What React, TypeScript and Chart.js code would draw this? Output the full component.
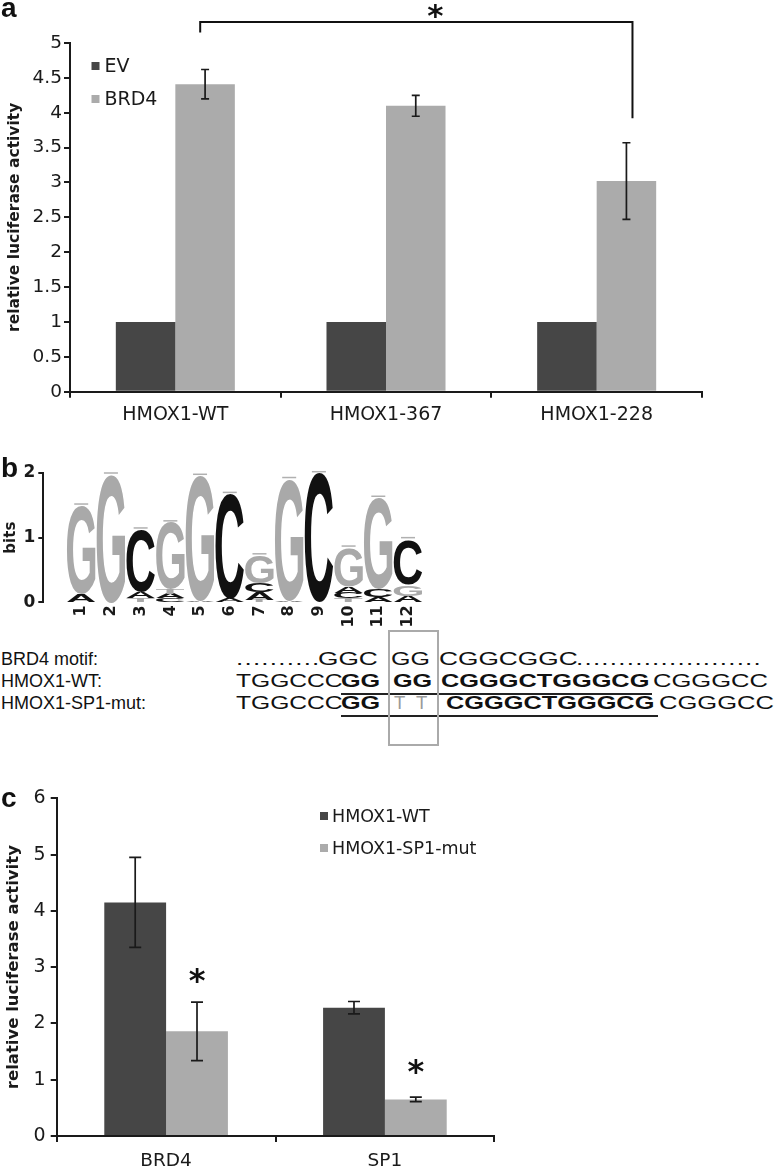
import React, { useEffect, useRef } from 'react';
import { Chart, registerables } from 'chart.js';

Chart.register(...registerables);

// ---------- Panel a data ----------
const aCategories = ['HMOX1-WT', 'HMOX1-367', 'HMOX1-228'];
const aSeriesNames = ['EV', 'BRD4'];
const aEV = [1, 1, 1];
const aEVErr = [0, 0, 0];
const aBRD4 = [4.41, 4.1, 3.02];
const aBRD4Err = [0.21, 0.15, 0.55];
// significance bracket (x in category-index units, y in axis units)
const aBracketX = [0.118, 2.17];
const aBracketY = [5.3, 5.15, 3.92]; // top, left end, right end
const aStarX = [1.234];
const aStarY = [5.45];

// ---------- Panel b data (sequence logo, bits) ----------
const logoPositions = [1, 2, 3, 4, 5, 6, 7, 8, 9, 10, 11, 12];
const logoLabels = ['1', '2', '3', '4', '5', '6', '7', '8', '9', '10', '11', '12'];
const logoLetters = ['A', 'C', 'G', 'T'];
const logoA = [0.12, 0, 0.1, 0.07, 0.02, 0.05, 0.12, 0.02, 0, 0.1, 0.08, 0.1];
const logoC = [0, 0, 0.96, 0.06, 0, 1.62, 0.14, 0, 1.99, 0.09, 0.12, 0.7];
const logoG = [1.37, 1.97, 0, 1.03, 1.93, 0, 0.42, 1.88, 0, 0.59, 1.41, 0.17];
const logoT = [0, 0, 0.06, 0.07, 0, 0, 0.04, 0, 0, 0.06, 0, 0];

// ---------- Panel b text ----------
const seqLabels = ['BRD4 motif:', 'HMOX1-WT:', 'HMOX1-SP1-mut:'];
const seqRow1 = ['..........', 'GGC', 'GG', 'CGGCGGC', '......................'];
const seqRow2 = ['TGGCCC', 'GG', 'GG', 'CGGGCTGGGCG', 'CGGGCC'];
const seqRow3 = ['TGGCCC', 'GG', 'T', 'T', 'CGGGCTGGGCG', 'CGGGCC'];

// ---------- Panel c data ----------
const cCategories = ['BRD4', 'SP1'];
const cSeriesNames = ['HMOX1-WT', 'HMOX1-SP1-mut'];
const cWT = [4.15, 2.28];
const cWTErr = [0.8, 0.11];
const cMut = [1.86, 0.65];
const cMutErr = [0.52, 0.04];
const cStarY = [2.86, 1.23];

// ---------- styles ----------
const DARK = '#464646';
const LIGHT = '#ababab';
const AX = '#1a1a1a';
const TXT = '#1a1a1a';
const FAM = "'DejaVu Sans', sans-serif";

function drawStar(ctx: CanvasRenderingContext2D, x: number, y: number, size: number) {
  ctx.save();
  ctx.font = `bold ${size}px 'DejaVu Sans'`;
  ctx.fillStyle = '#111';
  ctx.textAlign = 'center';
  ctx.textBaseline = 'alphabetic';
  const m = ctx.measureText('*');
  const asc = m.actualBoundingBoxAscent;
  const desc = m.actualBoundingBoxDescent;
  ctx.fillText('*', x, y + (asc - desc) / 2);
  ctx.restore();
}

function errorBarPlugin(errs: number[][], capW: number) {
  return {
    id: 'errbars',
    afterDatasetsDraw(chart: any) {
      const ctx = chart.ctx;
      const ys = chart.scales.y;
      ctx.save();
      ctx.strokeStyle = AX;
      ctx.lineWidth = 1.7;
      chart.data.datasets.forEach((ds: any, di: number) => {
        const meta = chart.getDatasetMeta(di);
        meta.data.forEach((el: any, i: number) => {
          const e = errs[di][i];
          if (!e) return;
          const v = ds.data[i];
          const yt = ys.getPixelForValue(v + e);
          const yb = ys.getPixelForValue(v - e);
          ctx.beginPath();
          ctx.moveTo(el.x, yt);
          ctx.lineTo(el.x, yb);
          ctx.moveTo(el.x - capW / 2, yt);
          ctx.lineTo(el.x + capW / 2, yt);
          ctx.moveTo(el.x - capW / 2, yb);
          ctx.lineTo(el.x + capW / 2, yb);
          ctx.stroke();
        });
      });
      ctx.restore();
    },
  };
}

// legend drawn inside the plot; x, y are canvas pixel positions
function legendPlugin(x: number, y: number, rowGap: number, box: number, textGap: number, size: number) {
  return {
    id: 'inlegend',
    afterDraw(chart: any) {
      const ctx = chart.ctx;
      ctx.save();
      ctx.font = `${size}px 'DejaVu Sans'`;
      ctx.textBaseline = 'middle';
      ctx.textAlign = 'left';
      chart.data.datasets.forEach((ds: any, i: number) => {
        const cy = y + i * rowGap;
        ctx.fillStyle = ds.backgroundColor;
        ctx.fillRect(x, cy - box / 2, box, box);
        ctx.fillStyle = TXT;
        ctx.fillText(ds.label, x + box + textGap, cy + 1);
      });
      ctx.restore();
    },
  };
}

function drawLetter(
  ctx: CanvasRenderingContext2D,
  ch: string,
  x0: number,
  x1: number,
  yTop: number,
  yBot: number,
  color: string
) {
  if (yBot - yTop < 0.3) return;
  ctx.save();
  ctx.font = 'bold 100px "Liberation Sans"';
  ctx.textAlign = 'left';
  ctx.textBaseline = 'alphabetic';
  const m = ctx.measureText(ch);
  const inkW = m.actualBoundingBoxLeft + m.actualBoundingBoxRight;
  const inkH = m.actualBoundingBoxAscent + m.actualBoundingBoxDescent;
  ctx.translate(x0, yTop);
  ctx.scale((x1 - x0) / inkW, (yBot - yTop) / inkH);
  ctx.fillStyle = color;
  ctx.fillText(ch, m.actualBoundingBoxLeft, m.actualBoundingBoxAscent);
  ctx.restore();
}

function useChart(ref: React.RefObject<HTMLCanvasElement>, build: () => any) {
  useEffect(() => {
    if (!ref.current) return;
    const chart = new Chart(ref.current, build());
    return () => chart.destroy();
  }, []);
}

function buildA() {
  const bracket = {
    id: 'bracket',
    afterDraw(chart: any) {
      const ctx = chart.ctx;
      const xs = chart.scales.x;
      const ys = chart.scales.y;
      const xl = xs.getPixelForValue(aBracketX[0]);
      const xr = xs.getPixelForValue(aBracketX[1]);
      ctx.save();
      ctx.strokeStyle = '#111';
      ctx.lineWidth = 2;
      ctx.beginPath();
      ctx.moveTo(xl, ys.getPixelForValue(aBracketY[1]));
      ctx.lineTo(xl, ys.getPixelForValue(aBracketY[0]));
      ctx.lineTo(xr, ys.getPixelForValue(aBracketY[0]));
      ctx.lineTo(xr, ys.getPixelForValue(aBracketY[2]));
      ctx.stroke();
      ctx.restore();
      aStarX.forEach((sx, i) => drawStar(ctx, xs.getPixelForValue(sx), ys.getPixelForValue(aStarY[i]), 31));
    },
  };
  return {
    type: 'bar',
    data: {
      labels: aCategories,
      datasets: [
        { label: aSeriesNames[0], data: aEV, backgroundColor: DARK, categoryPercentage: 0.565, barPercentage: 1 },
        { label: aSeriesNames[1], data: aBRD4, backgroundColor: LIGHT, categoryPercentage: 0.565, barPercentage: 1 },
      ],
    },
    options: {
      responsive: false,
      animation: false,
      devicePixelRatio: 1,
      layout: { padding: { top: 43, right: 75, left: 0, bottom: 0 } },
      plugins: { legend: { display: false }, tooltip: { enabled: false } },
      scales: {
        x: {
          offset: true,
          grid: { drawOnChartArea: false, drawTicks: true, tickLength: 6, color: AX, lineWidth: 2, offset: true },
          border: { display: true, color: AX, width: 2 },
          ticks: { font: { family: FAM, size: 19 }, color: TXT, padding: 5.5 },
          afterFit: (s: any) => {
            s.height = 48.3;
          },
        },
        y: {
          min: 0,
          max: 5,
          ticks: { stepSize: 0.5, font: { family: FAM, size: 18.5 }, color: TXT, padding: 2, callback: (v: any) => String(v) },
          grid: { drawOnChartArea: false, tickLength: 6, color: AX, lineWidth: 2 },
          border: { display: true, color: AX, width: 2 },
          title: {
            display: true,
            text: 'relative luciferase activity',
            font: { family: FAM, size: 15.5, weight: 'bold' },
            color: TXT,
            padding: { top: 6, bottom: 0 },
          },
          afterFit: (s: any) => {
            s.width = 70;
          },
        },
      },
    },
    plugins: [errorBarPlugin([aEVErr, aBRD4Err], 8), legendPlugin(91.5, 66, 33, 8, 5, 19), bracket],
  };
}

function buildB() {
  const heights = [logoA, logoC, logoG, logoT];
  const colors = ['#111111', '#111111', '#a9a9a9', '#a9a9a9'];
  const totals = logoPositions.map((_, i) => heights.reduce((s, h) => s + h[i], 0));
  const logo = {
    id: 'logo',
    afterDatasetsDraw(chart: any) {
      const ctx = chart.ctx;
      const ys = chart.scales.y;
      const meta = chart.getDatasetMeta(0);
      meta.data.forEach((el: any, i: number) => {
        const w = el.width;
        const x0 = el.x - w / 2;
        const x1 = el.x + w / 2;
        const stack = logoLetters
          .map((ch, k) => ({ ch, h: heights[k][i], color: colors[k] }))
          .filter((s) => s.h > 0)
          .sort((a, b) => a.h - b.h);
        let cum = 0;
        stack.forEach((s) => {
          const yb = ys.getPixelForValue(cum);
          const yt = ys.getPixelForValue(cum + s.h);
          drawLetter(ctx, s.ch, x0, x1, yt, yb, s.color);
          cum += s.h;
        });
        const yc = ys.getPixelForValue(cum + 0.03);
        ctx.save();
        ctx.strokeStyle = '#b0b0b0';
        ctx.lineWidth = 1.5;
        ctx.beginPath();
        ctx.moveTo(el.x - 7, yc);
        ctx.lineTo(el.x + 7, yc);
        ctx.stroke();
        ctx.restore();
      });
    },
  };
  return {
    type: 'bar',
    data: {
      datasets: [
        {
          label: 'bits',
          data: logoPositions.map((p, i) => ({ x: p, y: totals[i] })),
          backgroundColor: 'rgba(0,0,0,0)',
          barPercentage: 0.96,
          categoryPercentage: 1,
        },
      ],
    },
    options: {
      responsive: false,
      animation: false,
      devicePixelRatio: 1,
      layout: { padding: { top: 18, right: 20, left: 0, bottom: 0 } },
      plugins: { legend: { display: false }, tooltip: { enabled: false } },
      scales: {
        x: {
          type: 'linear',
          min: 0.28,
          max: 12.52,
          afterBuildTicks: (s: any) => {
            s.ticks = logoPositions.map((v) => ({ value: v }));
          },
          ticks: {
            autoSkip: false,
            minRotation: 90,
            maxRotation: 90,
            padding: 3,
            color: TXT,
            font: { family: FAM, size: 16, weight: 'bold' },
            callback: (v: any) => logoLabels[logoPositions.indexOf(v)],
          },
          grid: { display: false, drawTicks: false },
          border: { display: false },
          afterFit: (s: any) => {
            s.height = 32.7;
          },
        },
        y: {
          min: 0,
          max: 2,
          ticks: { stepSize: 1, padding: 3, color: TXT, font: { family: FAM, size: 17, weight: 'bold' } },
          grid: { drawOnChartArea: false, tickLength: 5, color: AX, lineWidth: 2 },
          border: { display: true, color: AX, width: 2 },
          title: {
            display: true,
            text: 'bits',
            color: TXT,
            font: { family: FAM, size: 15, weight: 'bold' },
            padding: { top: 2, bottom: 0 },
          },
          afterFit: (s: any) => {
            s.width = 43.3;
          },
        },
      },
    },
    plugins: [logo],
  };
}

function buildC() {
  const stars = {
    id: 'stars',
    afterDraw(chart: any) {
      const ys = chart.scales.y;
      const meta = chart.getDatasetMeta(1);
      meta.data.forEach((el: any, i: number) => drawStar(chart.ctx, el.x, ys.getPixelForValue(cStarY[i]), 32));
    },
  };
  return {
    type: 'bar',
    data: {
      labels: cCategories,
      datasets: [
        { label: cSeriesNames[0], data: cWT, backgroundColor: DARK, categoryPercentage: 0.565, barPercentage: 1 },
        { label: cSeriesNames[1], data: cMut, backgroundColor: LIGHT, categoryPercentage: 0.565, barPercentage: 1 },
      ],
    },
    options: {
      responsive: false,
      animation: false,
      devicePixelRatio: 1,
      layout: { padding: { top: 28.3, right: 282.7, left: 0, bottom: 0 } },
      plugins: { legend: { display: false }, tooltip: { enabled: false } },
      scales: {
        x: {
          offset: true,
          grid: { drawOnChartArea: false, drawTicks: true, tickLength: 6, color: AX, lineWidth: 2, offset: true },
          border: { display: true, color: AX, width: 2 },
          ticks: { font: { family: FAM, size: 18.5 }, color: TXT, padding: 8.5 },
          afterFit: (s: any) => {
            s.height = 32;
          },
        },
        y: {
          min: 0,
          max: 6,
          ticks: { stepSize: 1, font: { family: FAM, size: 19 }, color: TXT, padding: 5 },
          grid: { drawOnChartArea: false, tickLength: 6, color: AX, lineWidth: 2 },
          border: { display: true, color: AX, width: 2 },
          title: {
            display: true,
            text: 'relative luciferase activity',
            font: { family: FAM, size: 16.5, weight: 'bold' },
            color: TXT,
            padding: { top: 3.5, bottom: 0 },
          },
          afterFit: (s: any) => {
            s.width = 56.7;
          },
        },
      },
    },
    plugins: [errorBarPlugin([cWTErr, cMutErr], 12), legendPlugin(320, 46, 32, 8, 4, 17.5), stars],
  };
}

// layout of sequence segments (positions / scales only)
const seqRowsText = [seqRow1, seqRow2, seqRow3];
const seqBaselines = [665.5, 687.5, 709.5];
const seqLefts = [
  [236, 318, 391, 439, 576],
  [236, 341, 393, 441, 653],
  [236, 341, 394, 416, 446, 659],
];
const seqScales = [
  [1.4, 1.42, 1.35, 1.42, 1.4],
  [1.33, 1.36, 1.36, 1.37, 1.38],
  [1.33, 1.36, 1.0, 1.0, 1.37, 1.38],
];
const seqStyles = [
  ['dot', 'n', 'n', 'n', 'dot'],
  ['n', 'b', 'b', 'b', 'n'],
  ['n', 'b', 'g', 'g', 'b', 'n'],
];

const panelLabel = (text: string, left: number, top: number): React.ReactElement => (
  <div
    style={{
      position: 'absolute',
      left,
      top,
      fontFamily: '"Liberation Sans", Arial, sans-serif',
      fontWeight: 'bold',
      fontSize: 28,
      lineHeight: '28px',
      color: '#111',
    }}
  >
    {text}
  </div>
);

export default function App() {
  const refA = useRef<HTMLCanvasElement>(null);
  const refB = useRef<HTMLCanvasElement>(null);
  const refC = useRef<HTMLCanvasElement>(null);
  useChart(refA, buildA);
  useChart(refB, buildB);
  useChart(refC, buildC);

  const textBase: React.CSSProperties = {
    position: 'absolute',
    fontFamily: '"Liberation Sans", Arial, sans-serif',
    fontSize: 18.5,
    lineHeight: '18px',
    whiteSpace: 'pre',
    color: '#111',
  };

  return (
    <div
      style={{
        position: 'absolute',
        left: 0,
        top: 0,
        width: 777,
        height: 1168,
        background: '#fff',
        overflow: 'hidden',
      }}
    >
      <canvas ref={refA} width={777} height={440} style={{ position: 'absolute', left: 0, top: 0 }} />
      <canvas ref={refB} width={460} height={180} style={{ position: 'absolute', left: 0, top: 455 }} />
      <canvas ref={refC} width={777} height={398} style={{ position: 'absolute', left: 0, top: 770 }} />

      {seqLabels.map((t, r) => (
        <div key={'l' + r} style={{ ...textBase, fontSize: 18, left: 1, top: seqBaselines[r] - 15.2 }}>
          {t}
        </div>
      ))}
      {seqRowsText.map((row, r) =>
        row.map((seg, k) => {
          const st = seqStyles[r][k];
          return (
            <div
              key={`s${r}-${k}`}
              style={{
                ...textBase,
                left: seqLefts[r][k],
                top: seqBaselines[r] - 15.5,
                transform: `scaleX(${seqScales[r][k]})`,
                transformOrigin: 'left top',
                fontWeight: st === 'b' ? 'bold' : 'normal',
                color: st === 'g' ? '#9a9a9a' : '#111',
                letterSpacing: st === 'dot' ? 0.9 : 0,
              }}
            >
              {seg}
            </div>
          );
        })
      )}
      <div style={{ position: 'absolute', left: 341, top: 693, width: 311, height: 2, background: '#222' }} />
      <div style={{ position: 'absolute', left: 341, top: 715, width: 317, height: 2, background: '#222' }} />
      <div
        style={{
          position: 'absolute',
          left: 388,
          top: 630,
          width: 51,
          height: 116,
          boxSizing: 'border-box',
          border: '2px solid #aaaaaa',
        }}
      />

      {panelLabel('a', 1, -5.7)}
      {panelLabel('b', 1, 454.3)}
      {panelLabel('c', 1, 784.3)}
    </div>
  );
}
